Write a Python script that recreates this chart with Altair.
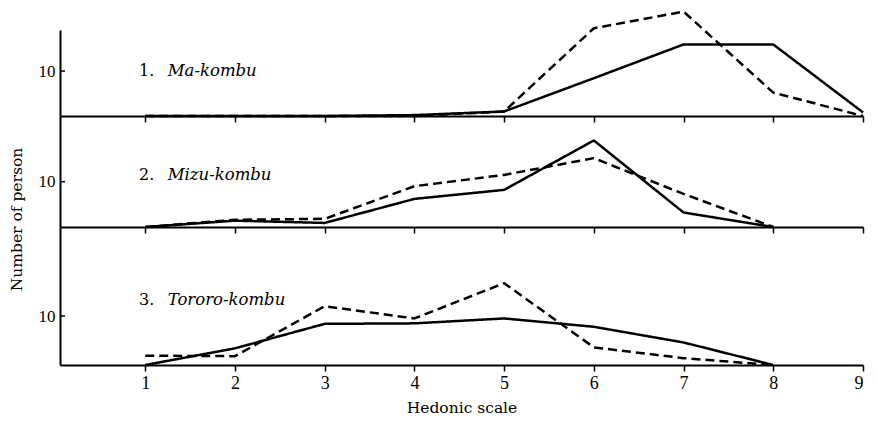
import altair as alt
import pandas as pd

# ---- data ----
x_ma = [1, 2, 3, 4, 5, 6, 7, 8, 9]
ma_solid = [0, 0, 0, 0.2, 1.0, 8.4, 15.9, 15.9, 0.8]
ma_dashed = [0, 0, 0, 0, 1.0, 19.5, 23.2, 5.2, 0]

x_mizu = [1, 2, 3, 4, 5, 6, 7, 8]
mizu_solid = [0, 1.4, 0.9, 6.2, 8.2, 19.1, 3.2, 0]
mizu_dashed = [0, 1.6, 1.8, 9.0, 11.5, 15.2, 7.3, 0]

x_tororo = [1, 2, 3, 4, 5, 6, 7, 8]
tororo_solid = [0, 3.4, 8.4, 8.5, 9.5, 7.8, 4.6, 0]
tororo_dashed = [1.9, 1.8, 12.0, 9.5, 16.7, 3.6, 1.4, 0]

panel_nums = ["1.", "2.", "3."]
panel_names = ["Ma-kombu", "Mizu-kombu", "Tororo-kombu"]
x_ticks = [1, 2, 3, 4, 5, 6, 7, 8, 9]
y_ticks = [10]

FONT = "DejaVu Serif"
NUMFONT = "Liberation Serif"
W = 803


def make_df(xs, solid, dashed):
    rows = []
    for x, v in zip(xs, solid):
        rows.append({"x": x, "v": v, "s": "solid"})
    for x, v in zip(xs, dashed):
        rows.append({"x": x, "v": v, "s": "dashed"})
    return pd.DataFrame(rows)


one = pd.DataFrame({"k": [0]})


def panel(df, height, ymax, num, name, lab_y, bottom, ytitle=None, title_y=0):
    xscale = alt.Scale(domain=[0.05, 9], nice=False, zero=False)
    yscale = alt.Scale(domain=[0, ymax], nice=False)
    if bottom:
        xaxis = alt.Axis(values=x_ticks, title="Hedonic scale", format="d",
                         labelFont=NUMFONT, labelFontSize=18, labelPadding=3,
                         titleFont=FONT, titleFontSize=15.5, titleFontWeight="normal",
                         titlePadding=8, tickSize=6, tickWidth=1.5, domainWidth=2)
    else:
        xaxis = alt.Axis(values=x_ticks, title=None, labels=False, tickSize=6,
                         tickWidth=1.5, domainWidth=2)
    yargs = dict(values=y_ticks, ticks=False, labelFont=NUMFONT, labelFontSize=17,
                 labelPadding=5, domainWidth=2, format="d")
    if ytitle:
        yargs.update(title=ytitle, titleFont=FONT, titleFontSize=15.5,
                     titleFontWeight="normal", titleY=title_y, titlePadding=14,
                     titleAlign="center")
    else:
        yargs.update(title=None)
    yaxis = alt.Axis(**yargs)

    lines = alt.Chart(df).mark_line(color="black", strokeWidth=2.5,
                                    strokeJoin="round").encode(
        x=alt.X("x:Q", scale=xscale, axis=xaxis),
        y=alt.Y("v:Q", scale=yscale, axis=yaxis),
        strokeDash=alt.StrokeDash("s:N", scale=alt.Scale(domain=["solid", "dashed"],
                                  range=[[1, 0], [9, 5]]), legend=None),
        detail="s:N",
    )
    tick = alt.Chart(one).mark_rule(color="black", strokeWidth=1.5).encode(
        y=alt.datum(10), x=alt.value(0), x2=alt.value(5)
    )
    t_num = alt.Chart(one).mark_text(font=FONT, fontSize=16, align="left",
                                     baseline="middle", color="black").encode(
        x=alt.datum(0.93), y=alt.datum(lab_y), text=alt.value(num))
    t_name = alt.Chart(one).mark_text(font=FONT, fontSize=16.5, fontStyle="italic",
                                      align="left", baseline="middle",
                                      color="black").encode(
        x=alt.datum(1.25), y=alt.datum(lab_y), text=alt.value(name))
    return alt.layer(lines, tick, t_num, t_name).properties(width=W, height=height)


p1 = panel(make_df(x_ma, ma_solid, ma_dashed), 86, 86 / 4.5, panel_nums[0],
           panel_names[0], 10.0, False)
p2 = panel(make_df(x_mizu, mizu_solid, mizu_dashed), 111, 111 / 4.53, panel_nums[1],
           panel_names[1], 11.5, False, ytitle="Number of person", title_y=103)
p3 = panel(make_df(x_tororo, tororo_solid, tororo_dashed), 138, 138 / 4.9,
           panel_nums[2], panel_names[2], 13.3, True)

chart = alt.vconcat(p1, p2, p3, spacing=0, bounds="flush").properties(
    padding={"top": 2, "left": 1, "right": 0, "bottom": 0}
).configure_view(stroke=None).configure_axis(
    domainColor="black", tickColor="black", labelColor="black", titleColor="black",
    grid=False
)

chart.save("out.html", embed_options={"renderer": "svg", "actions": False})
